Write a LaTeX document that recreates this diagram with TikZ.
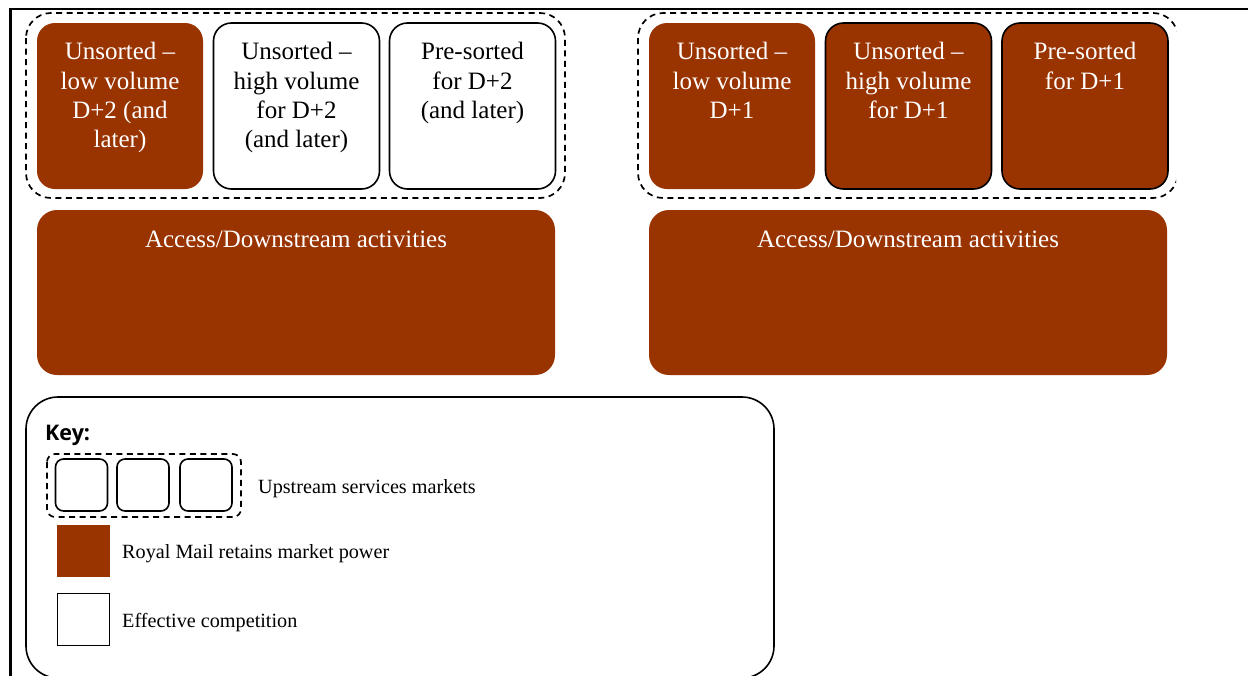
\documentclass[tikz,border=0pt]{standalone}
\usepackage{fontspec}
\setmainfont{Liberation Serif}
\newfontfamily\keyfont{Open Sans}
\definecolor{rmbrown}{HTML}{993300}
\begin{document}
\begin{tikzpicture}[x=1pt,y=-1pt,
  mkt/.style={rounded corners=18pt, minimum width=166pt, minimum height=166pt, inner sep=0pt, outer sep=0pt},
  rm/.style={mkt, fill=rmbrown},
  rmb/.style={mkt, fill=rmbrown, draw=black, line width=1.6pt},
  comp/.style={mkt, fill=white, draw=black, line width=1.6pt},
  mtext/.style={anchor=north, inner sep=0pt, align=center, font=\fontsize{25}{29.3}\selectfont},
  acc/.style={fill=rmbrown, rounded corners=20pt, minimum width=518pt, minimum height=165pt, inner sep=0pt},
  grp/.style={draw=black, dash pattern=on 6pt off 4.5pt, line width=1.7pt, rounded corners=25pt},
  keylbl/.style={anchor=base west, inner sep=0pt, font=\fontsize{20.2}{24}\selectfont},
  smallbox/.style={draw=black, line width=1.6pt, rounded corners=8pt, minimum width=52pt, minimum height=52pt, inner sep=0pt}
]
\useasboundingbox (0,0) rectangle (1248,675);
% frame
\draw[line width=2.2pt] (1248,9) -- (10.5,9) -- (10.5,676);

% left group
\draw[grp] (26,13) rectangle (565,198);
\node[rm]   (l1) at (120,106) {};
\node[comp] (l2) at (296.5,106) {};
\node[comp] (l3) at (472.5,106) {};
\node[mtext, text=white] (l1t) at (120,42.3) {Unsorted –\\low volume\\D+2 (and\\later)};
\node[mtext] (l2t) at (296.5,42.3) {Unsorted –\\high volume\\for D+2\\(and later)};
\node[mtext] (l3t) at (472.5,42.3) {Pre-sorted\\for D+2\\(and later)};

% right group
\begin{scope}
\clip (600,0) rectangle (1176,675);
\draw[grp] (638,13) rectangle (1178,198);
\end{scope}
\node[rm]  (r1) at (732,106) {};
\node[rmb] (r2) at (908.5,106) {};
\node[rmb] (r3) at (1085,106) {};
\node[mtext, text=white] (r1t) at (732,42.3) {Unsorted –\\low volume\\D+1};
\node[mtext, text=white] (r2t) at (908.5,42.3) {Unsorted –\\high volume\\for D+1};
\node[mtext, text=white] (r3t) at (1085,42.3) {Pre-sorted\\for D+1};

% access boxes
\node[acc] (la) at (296,292.5) {};
\node[acc] (ra) at (908,292.5) {};
\node[anchor=base, inner sep=0pt, text=white, font=\fontsize{25}{29.3}\selectfont] (lat) at (296,247) {Access/Downstream activities};
\node[anchor=base, inner sep=0pt, text=white, font=\fontsize{25}{29.3}\selectfont] (rat) at (908,247) {Access/Downstream activities};

% key
\draw[line width=1.6pt, rounded corners=32pt] (26,397) rectangle (774,678);
\node[anchor=base west, inner sep=0pt, font=\keyfont\bfseries\fontsize{21.5}{25}\selectfont] (keyt) at (45,440) {Key:};
\draw[grp, rounded corners=8pt] (47,454) rectangle (241,517);
\node[smallbox] (k1) at (81.5,485) {};
\node[smallbox] (k2) at (143,485) {};
\node[smallbox] (k3) at (206,485) {};
\node[keylbl] (k1t) at (258,493) {Upstream services markets};
\node[fill=rmbrown, minimum width=53pt, minimum height=52pt, inner sep=0pt] (k2b) at (83.5,551) {};
\node[keylbl] (k2t) at (122,558) {Royal Mail retains market power};
\node[draw=black, line width=1.6pt, minimum width=52pt, minimum height=52pt, inner sep=0pt] (k3b) at (83.5,619.5) {};
\node[keylbl] (k3t) at (122,627) {Effective competition};
\end{tikzpicture}
\end{document}
